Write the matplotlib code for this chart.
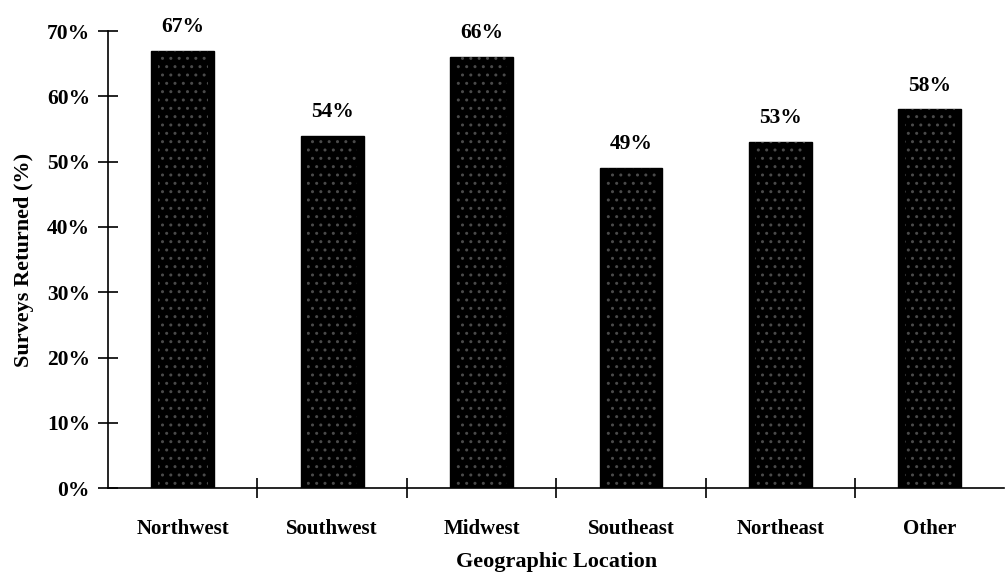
import matplotlib
matplotlib.use("Agg")
import matplotlib.pyplot as plt
import numpy as np

# survey return rate by region
regions = ["Northwest", "Southwest", "Midwest", "Southeast", "Northeast", "Other"]
returned = [67, 54, 66, 49, 53, 58]
yticks = [0, 10, 20, 30, 40, 50, 60, 70]

plt.rcParams['font.family'] = ['Liberation Serif', 'DejaVu Serif']
plt.rcParams['font.weight'] = 'bold'
plt.rcParams['hatch.linewidth'] = 1.0

fig = plt.figure(figsize=(10.05, 5.75), dpi=100)
ax = fig.add_axes([0.1075, 0.151, 0.892, 0.795])

x = np.arange(len(regions))
w = 0.42
ax.bar(x, returned, width=w, color='black', edgecolor='black', linewidth=1)
# stipple overlay
ax.bar(x, returned, width=w * 0.8, color='none', edgecolor='#4a4a4a', linewidth=0, hatch='..')

for xi, v in zip(x, returned):
    ax.annotate('%d%%' % v, (xi, v), xytext=(0, 10), textcoords='offset points',
                ha='center', va='bottom', fontsize=15.5, fontweight='bold')

ax.set_xlim(-0.5, len(regions) - 0.5)
ax.set_ylim(0, 70)
ax.set_yticks(yticks)
ax.set_yticklabels(['%d%%' % t for t in yticks], fontsize=15.5, fontweight='bold')

# category labels centred, ticks on the boundaries
ax.set_xticks(x)
ax.set_xticklabels(regions, fontsize=15, fontweight='bold')
ax.tick_params(axis='x', length=0, pad=22)
ax.set_xticks(np.arange(0.5, len(regions) - 0.5), minor=True)
ax.tick_params(axis='x', which='minor', direction='inout', length=14, width=1.2)
ax.tick_params(axis='y', direction='inout', length=14, width=1.2, pad=6)

ax.spines['top'].set_visible(False)
ax.spines['right'].set_visible(False)
ax.spines['left'].set_linewidth(1.2)
ax.spines['bottom'].set_linewidth(1.2)

ax.set_xlabel('Geographic Location', fontsize=16, fontweight='bold')
ax.xaxis.set_label_coords(0.5, -0.14)
ax.set_ylabel('Surveys Returned (%)', fontsize=16, fontweight='bold')
ax.yaxis.set_label_coords(-0.083, 0.5)

fig.savefig('out.png', dpi=100)
